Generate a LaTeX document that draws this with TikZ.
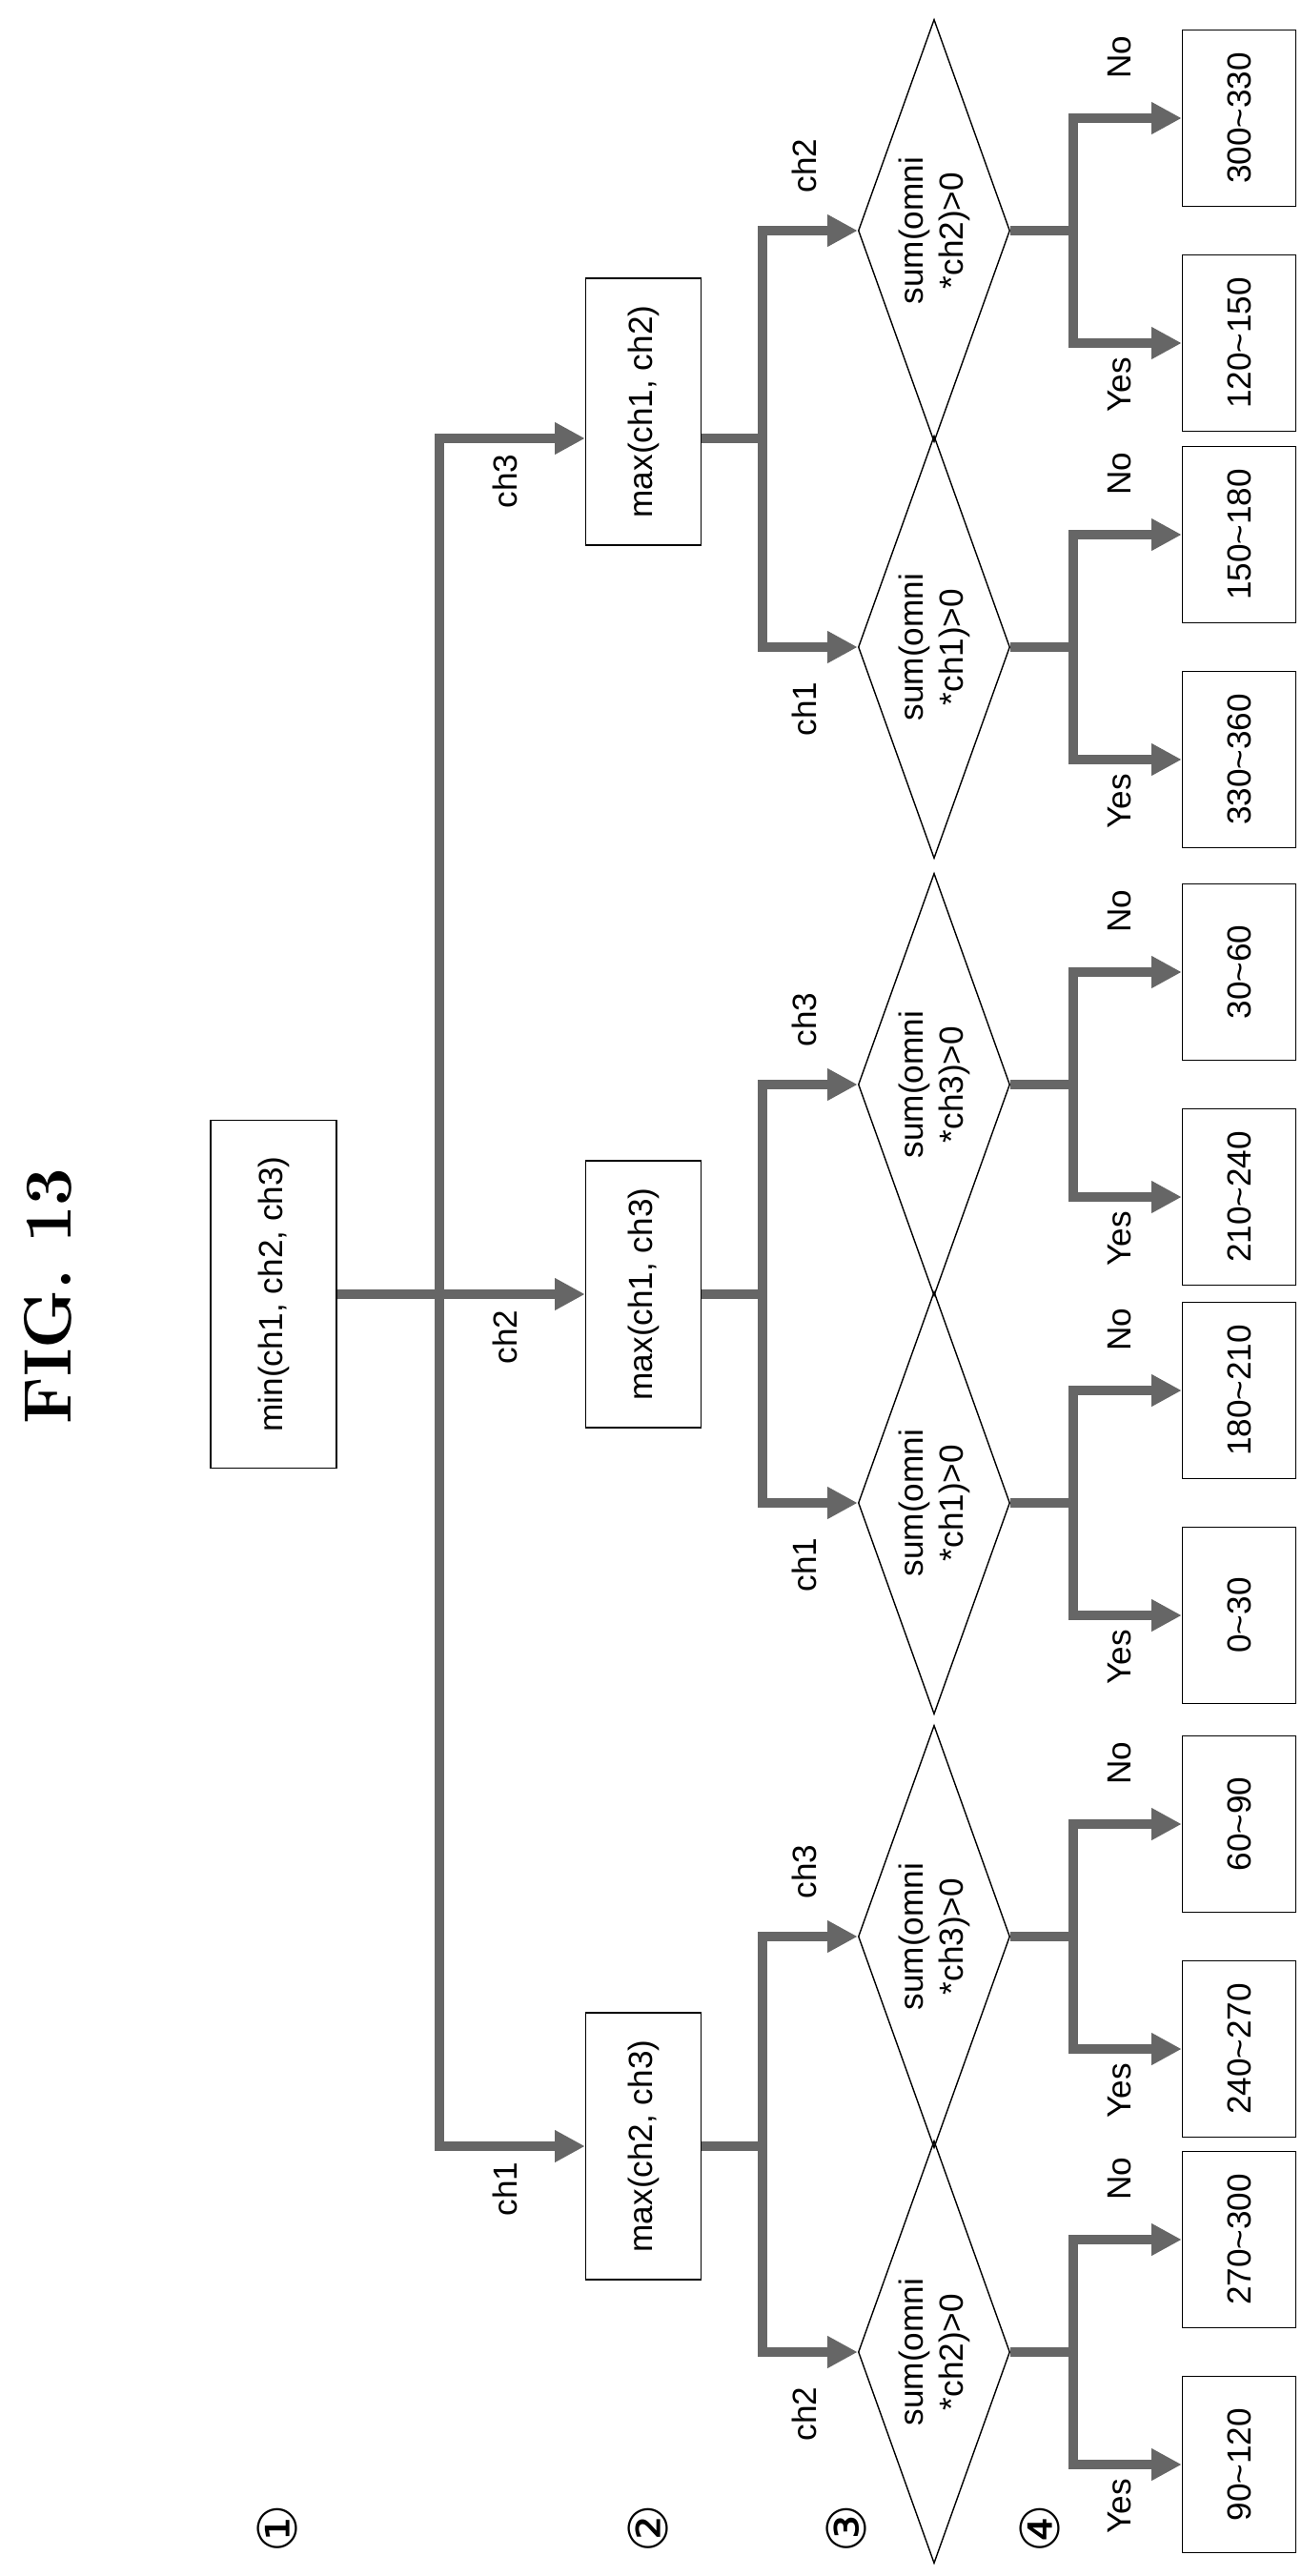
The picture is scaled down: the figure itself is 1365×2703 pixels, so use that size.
\documentclass[tikz,border=0pt]{standalone}
\usepackage{fontspec}
\setsansfont{Liberation Sans}
\newfontfamily\circfont{DejaVu Sans}
\usetikzlibrary{shapes.geometric}
\usetikzlibrary{arrows.meta}

\tikzset{
    txt/.style={font=\sffamily\fontsize{10}{12}\selectfont},
    box/.style={draw, thin, rotate=90, txt, inner sep=1pt},
    test/.style={draw, thin, shape=diamond, inner sep=0pt, minimum width=1.59cm, minimum height=4.43cm},
    joint/.style={line width=3pt, draw=black!60},
    flow/.style={joint, -{Triangle[length=9pt,width=9pt]}},
    lab/.style={rotate=90, txt},
    level/.style={rotate=90, font=\circfont\fontsize{16}{18}\selectfont},
}

\begin{document}
\begin{tikzpicture}[x=0.01cm, y=0.01cm]
    % page frame
    \useasboundingbox (0,0) rectangle (1365,-2703);

    % title and level marks
    \node[rotate=90, font=\rmfamily\bfseries\fontsize{20}{24}\selectfont] (title) at (50,-1360) {FIG. 13};
    \node[level] (lv1) at (291,-2653) {①};
    \node[level] (lv2) at (680,-2653) {②};
    \node[level] (lv3) at (888,-2653) {③};
    \node[level] (lv4) at (1091,-2653) {④};

    % level 1 and 2 boxes
    \node[box, minimum width=3.65cm, minimum height=1.32cm] (m0) at (287,-1358) {min(ch1, ch2, ch3)};
    \node[box, minimum width=2.8cm, minimum height=1.21cm] (m1) at (675,-432) {max(ch1, ch2)};
    \node[box, minimum width=2.8cm, minimum height=1.21cm] (m2) at (675,-1358) {max(ch1, ch3)};
    \node[box, minimum width=2.8cm, minimum height=1.21cm] (m3) at (675,-2252) {max(ch2, ch3)};

    % trunk
    \coordinate (t) at (461,-1358);
    \coordinate (g1) at (461,-460);
    \coordinate (g3) at (461,-2252);
    \draw[joint] (m0.south) -- (t);
    \draw[flow] (t) -- (m2.north);
    \draw[flow] (t) -- (g1) -- (g1 -| m1.north);
    \draw[flow] (t) -- (g3) -- (m3.north);
    \node[lab] (l1) at (530,-505) {ch3};
    \node[lab] (l2) at (530,-1403) {ch2};
    \node[lab] (l3) at (530,-2297) {ch1};

    % stems of level 2
    \coordinate (s1) at (800,-460);
    \coordinate (s2) at (800,-1358);
    \coordinate (s3) at (800,-2252);
    \draw[joint] (m1.south |- s1) -- (s1);
    \draw[joint] (m2.south) -- (s2);
    \draw[joint] (m3.south) -- (s3);

    % tests and results
    \foreach \i/\y/\s/\ch/\o/\ya/\na in {
        1/242/1/2/-68/120/300, 2/679/1/1/65/330/150,
        3/1138/2/3/-68/210/30, 4/1577/2/1/65/0/180,
        5/2032/3/3/-68/240/60, 6/2468/3/2/65/90/270}{
        \pgfmathtruncatemacro{\yb}{\ya+30}
        \pgfmathtruncatemacro{\nb}{\na+30}
        \node[test] (d\i) at (980,-\y) {};
        \node[lab, align=center] (dt\i) at (980,-\y) {sum(omni\\*ch\ch)>0};
        \draw[flow] (s\s) |- (d\i.west);
        \node[lab] (c\i) at (844,-\y-\o) {ch\ch};
        \node[box, minimum width=1.85cm, minimum height=1.19cm] (y\i) at (1300,-\y-118) {\ya\textasciitilde\yb};
        \node[box, minimum width=1.85cm, minimum height=1.19cm] (n\i) at (1300,-\y+118) {\na\textasciitilde\nb};
        \draw[joint] (d\i.east) -- (1126,-\y) coordinate (r\i);
        \draw[flow] (r\i) |- (y\i.north);
        \draw[flow] (r\i) |- (n\i.north);
        \node[lab] (yl\i) at (1175,-\y-162) {Yes};
        \node[lab] (nl\i) at (1175,-\y+182) {No};
    }
\end{tikzpicture}
\end{document}
